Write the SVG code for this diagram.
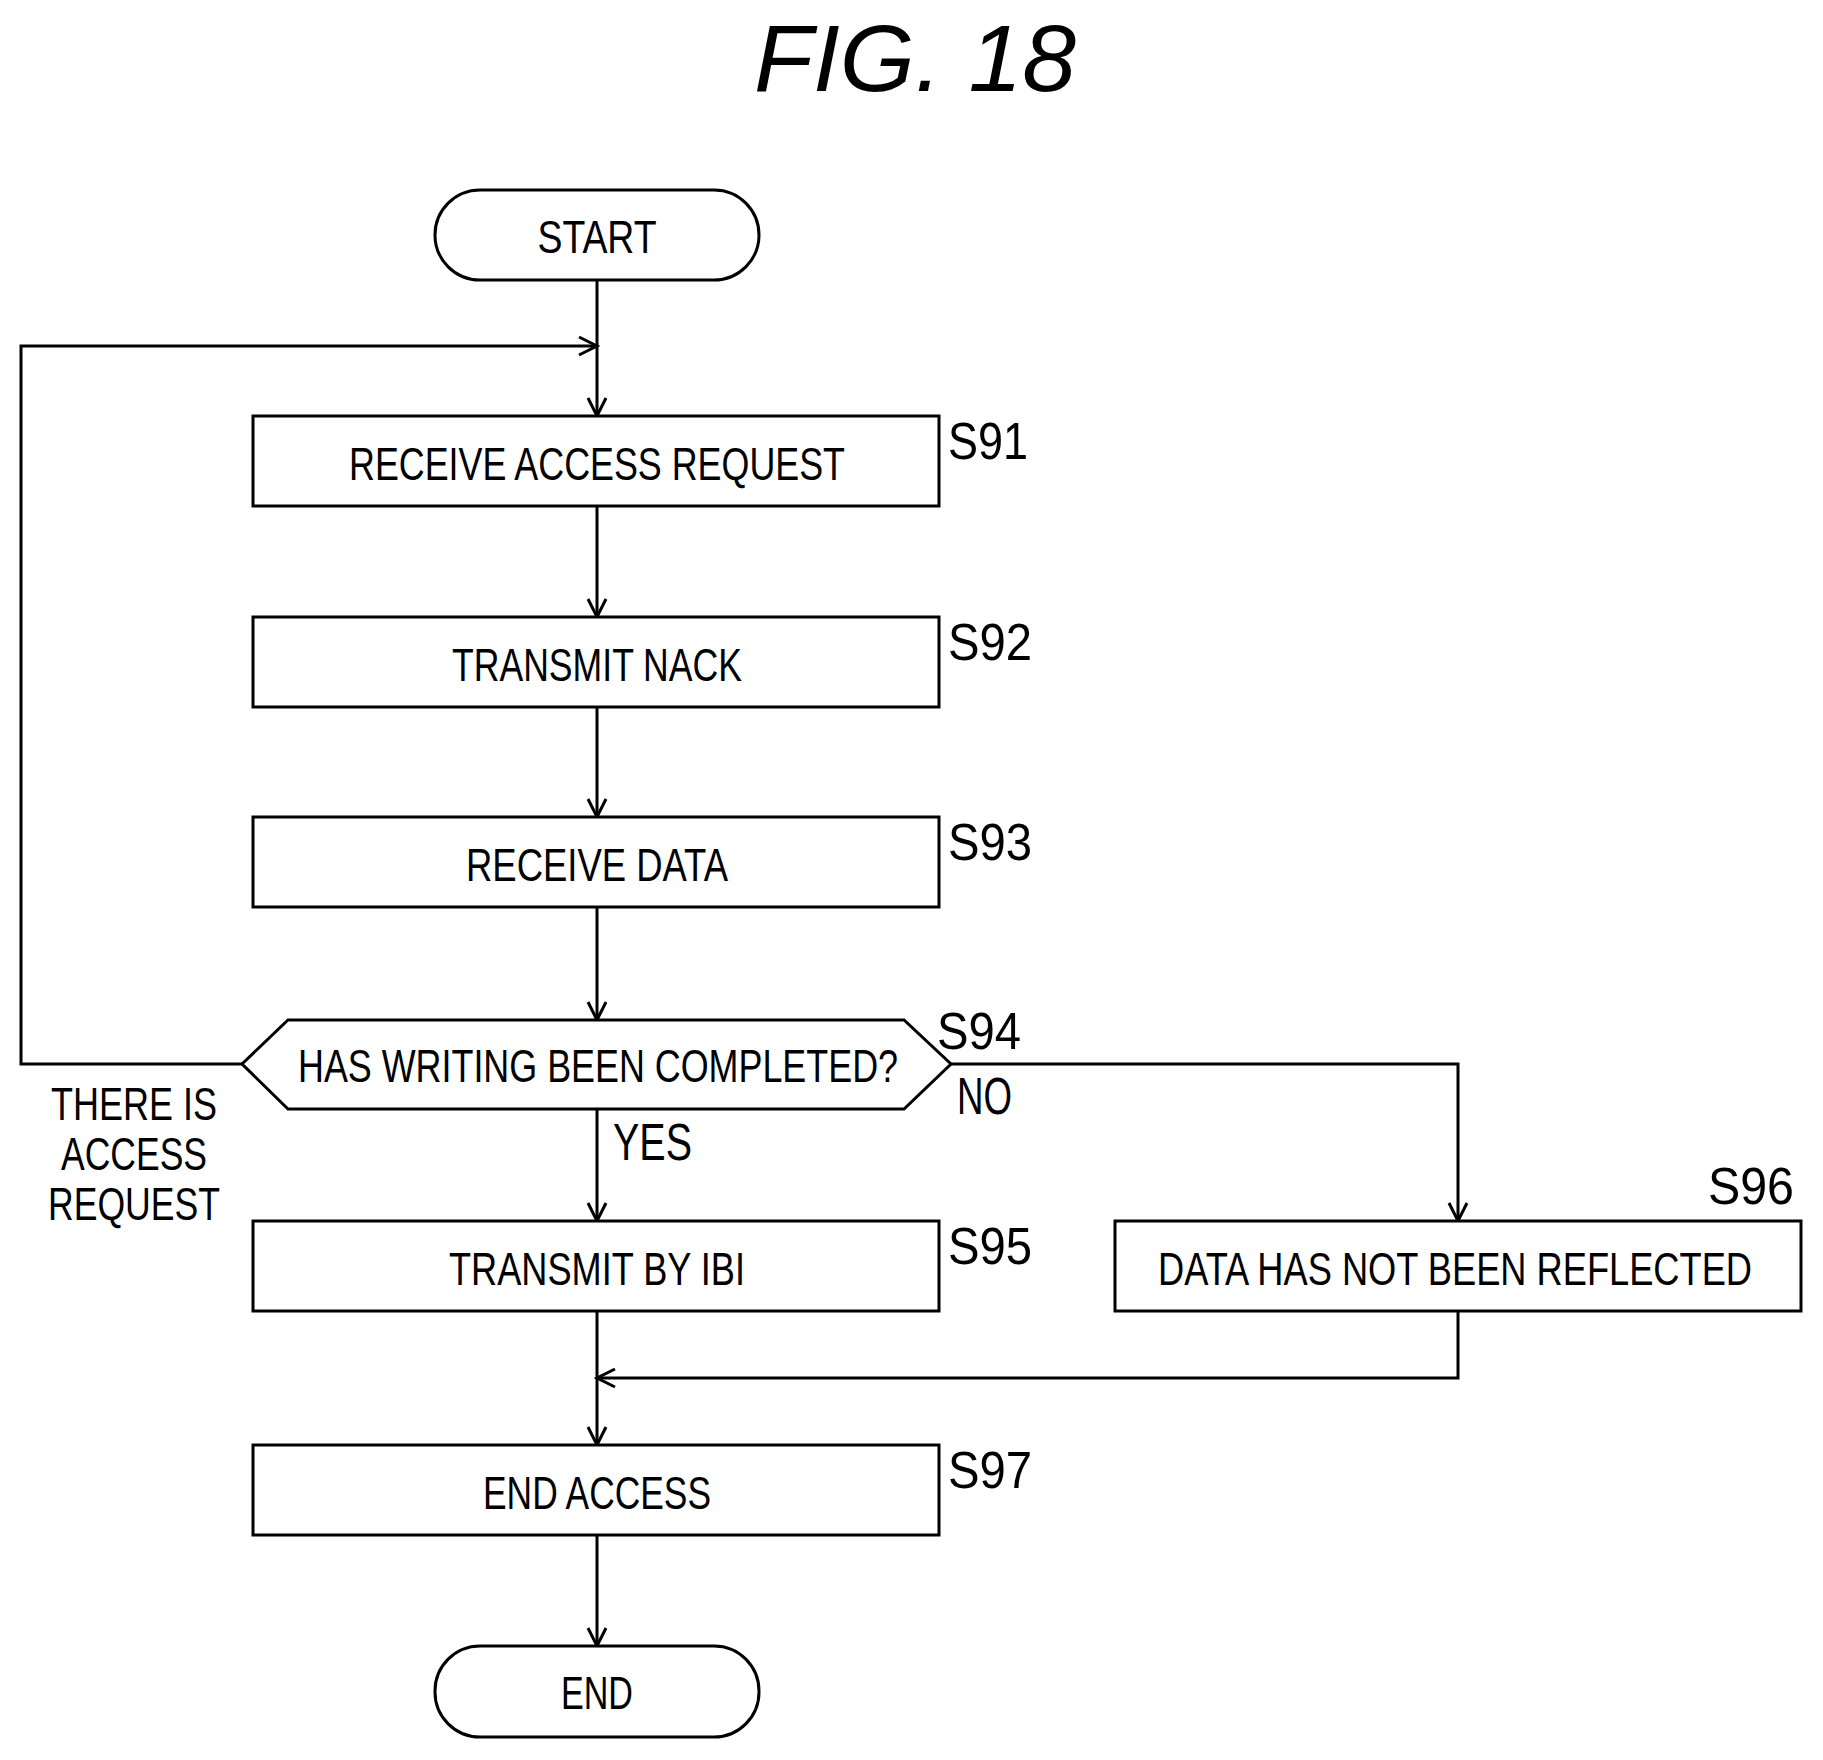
<svg xmlns="http://www.w3.org/2000/svg" width="1823" height="1760" viewBox="0 0 1823 1760">
<style>
.b{fill:#fff;stroke:#000;stroke-width:3}
.t{font-family:"Liberation Sans",Arial,sans-serif;font-size:46px;text-anchor:middle}
.l{font-family:"Liberation Sans",Arial,sans-serif;font-size:52px}
.c{fill:none;stroke:#000;stroke-width:3}
</style>
<defs><marker id="a" markerWidth="24" markerHeight="24" refX="20" refY="12" orient="auto" markerUnits="userSpaceOnUse"><path d="M2,3 L20,12 L2,21" fill="none" stroke="#000" stroke-width="3"/></marker></defs>
<rect width="1823" height="1760" fill="#fff"/>
<text x="915" y="91" font-family="Liberation Sans,Arial,sans-serif" font-size="94" font-style="italic" text-anchor="middle" textLength="322" lengthAdjust="spacingAndGlyphs">FIG. 18</text>
<g id="connectors">
<path class="c" d="M597,280 V416" marker-end="url(#a)"/>
<path class="c" d="M242,1064 H21 V346 H597" marker-end="url(#a)"/>
<path class="c" d="M597,506 V617" marker-end="url(#a)"/>
<path class="c" d="M597,707 V817" marker-end="url(#a)"/>
<path class="c" d="M597,907 V1020" marker-end="url(#a)"/>
<path class="c" d="M597,1109 V1221" marker-end="url(#a)"/>
<path class="c" d="M951,1064 H1458 V1221" marker-end="url(#a)"/>
<path class="c" d="M597,1311 V1445" marker-end="url(#a)"/>
<path class="c" d="M1458,1311 V1378 H597" marker-end="url(#a)"/>
<path class="c" d="M597,1535 V1646" marker-end="url(#a)"/>
</g>
<g id="start"><rect class="b" x="435" y="190" width="324" height="90" rx="45"/><text class="t" x="597" y="253" textLength="119" lengthAdjust="spacingAndGlyphs">START</text></g>
<g id="s91"><rect class="b" x="253" y="416" width="686" height="90"/><text class="t" x="597" y="480" textLength="496" lengthAdjust="spacingAndGlyphs">RECEIVE ACCESS REQUEST</text><text class="l" x="948" y="459" textLength="80" lengthAdjust="spacingAndGlyphs">S91</text></g>
<g id="s92"><rect class="b" x="253" y="617" width="686" height="90"/><text class="t" x="597" y="681" textLength="290" lengthAdjust="spacingAndGlyphs">TRANSMIT NACK</text><text class="l" x="948" y="660" textLength="84" lengthAdjust="spacingAndGlyphs">S92</text></g>
<g id="s93"><rect class="b" x="253" y="817" width="686" height="90"/><text class="t" x="597" y="881" textLength="262" lengthAdjust="spacingAndGlyphs">RECEIVE DATA</text><text class="l" x="948" y="860" textLength="84" lengthAdjust="spacingAndGlyphs">S93</text></g>
<g id="s94"><path class="b" d="M242,1064 L288,1020 H904 L951,1064 L904,1109 H288 Z"/><text class="t" x="598" y="1082" textLength="600" lengthAdjust="spacingAndGlyphs">HAS WRITING BEEN COMPLETED?</text><text class="l" x="937" y="1049" textLength="84" lengthAdjust="spacingAndGlyphs">S94</text><text class="l" x="957" y="1114" textLength="55" lengthAdjust="spacingAndGlyphs">NO</text><text class="l" x="613" y="1160" textLength="79" lengthAdjust="spacingAndGlyphs">YES</text>
<text class="t" x="134" y="1120" textLength="166" lengthAdjust="spacingAndGlyphs">THERE IS</text><text class="t" x="134" y="1170" textLength="146" lengthAdjust="spacingAndGlyphs">ACCESS</text><text class="t" x="134" y="1220" textLength="172" lengthAdjust="spacingAndGlyphs">REQUEST</text></g>
<g id="s95"><rect class="b" x="253" y="1221" width="686" height="90"/><text class="t" x="597" y="1285" textLength="296" lengthAdjust="spacingAndGlyphs">TRANSMIT BY IBI</text><text class="l" x="948" y="1264" textLength="84" lengthAdjust="spacingAndGlyphs">S95</text></g>
<g id="s96"><rect class="b" x="1115" y="1221" width="686" height="90"/><text class="t" x="1455" y="1285" textLength="594" lengthAdjust="spacingAndGlyphs">DATA HAS NOT BEEN REFLECTED</text><text class="l" x="1708" y="1204" textLength="86" lengthAdjust="spacingAndGlyphs">S96</text></g>
<g id="s97"><rect class="b" x="253" y="1445" width="686" height="90"/><text class="t" x="597" y="1509" textLength="228" lengthAdjust="spacingAndGlyphs">END ACCESS</text><text class="l" x="948" y="1488" textLength="84" lengthAdjust="spacingAndGlyphs">S97</text></g>
<g id="end"><rect class="b" x="435" y="1646" width="324" height="91" rx="45"/><text class="t" x="597" y="1709" textLength="72" lengthAdjust="spacingAndGlyphs">END</text></g>
</svg>
